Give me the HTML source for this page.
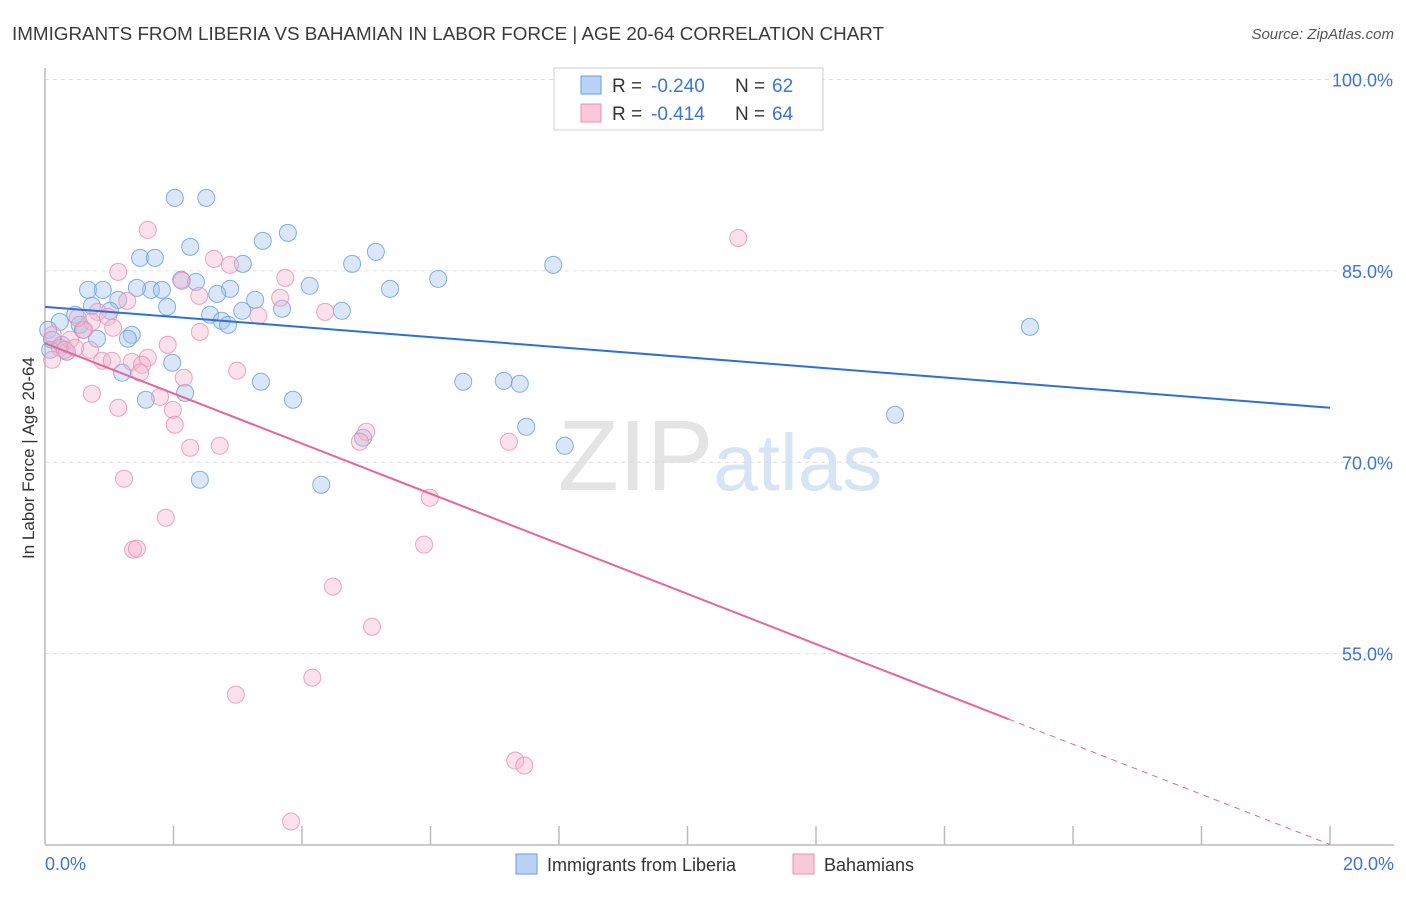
<!DOCTYPE html>
<html><head><meta charset="utf-8"><style>
body{margin:0;background:#fff;font-family:"Liberation Sans",sans-serif;}
svg text{font-family:"Liberation Sans",sans-serif;}
</style></head><body>
<svg id="chart" width="1406" height="892" xmlns="http://www.w3.org/2000/svg">
<text x="12" y="40" font-size="18" fill="#3a3a3a" textLength="872" lengthAdjust="spacingAndGlyphs">IMMIGRANTS FROM LIBERIA VS BAHAMIAN IN LABOR FORCE | AGE 20-64 CORRELATION CHART</text>
<text x="1394" y="39" font-size="15" fill="#555" font-style="italic" text-anchor="end">Source: ZipAtlas.com</text>
<text x="720" y="490" font-size="100" fill="#e4e4e4" text-anchor="middle" font-family="Liberation Serif">ZIP<tspan fill="#d6e4f4" font-family="Liberation Sans" font-size="80">atlas</tspan></text>
<g id="grid"></g>
<g id="axes"></g>
<g id="marks"></g>
<text transform="translate(34,458) rotate(-90)" font-size="17" fill="#333" text-anchor="middle">In Labor Force | Age 20-64</text>
<g>
<rect x="554" y="68" width="269" height="62" fill="#fff" stroke="#ccc"/>
<rect x="581" y="76" width="20" height="18" fill="#b8d3f5" stroke="#6a9be0"/>
<text x="612" y="92" font-size="19" fill="#333">R =</text>
<text x="651" y="92" font-size="19" fill="#3f74d2">-0.240</text>
<text x="735" y="92" font-size="19" fill="#333">N =</text>
<text x="772" y="92" font-size="19" fill="#3f74d2">62</text>
<rect x="581" y="104" width="20" height="18" fill="#f9c9d9" stroke="#e890b0"/>
<text x="612" y="120" font-size="19" fill="#333">R =</text>
<text x="651" y="120" font-size="19" fill="#3f74d2">-0.414</text>
<text x="735" y="120" font-size="19" fill="#333">N =</text>
<text x="772" y="120" font-size="19" fill="#3f74d2">64</text>
</g>
<g><rect x="516" y="854" width="21" height="20" fill="#b8d3f5" stroke="#6a9be0"/><text x="547" y="871" font-size="18" fill="#333">Immigrants from Liberia</text></g>
<g><rect x="793" y="854" width="21" height="20" fill="#f9c9d9" stroke="#e890b0"/><text x="824" y="871" font-size="18" fill="#333">Bahamians</text></g>
</svg>
<script>
const yTicks=[100,85,70,55];
const xTickLabels=["0.0%","20.0%"];
const blueX=[2.02,2.51,2.26,3.39,3.78,1.48,1.71,3.08,4.78,5.15,7.91,6.12,2.12,2.35,1.65,1.82,1.43,0.67,0.90,2.88,2.68,4.12,5.37,1.14,3.27,0.73,1.90,3.07,3.69,4.62,1.01,0.47,0.23,0.54,0.05,0.59,2.57,2.75,2.85,1.35,1.29,0.81,0.26,0.11,1.98,1.20,3.36,6.51,7.14,7.39,3.86,1.57,2.18,13.23,7.49,4.95,8.09,2.41,4.30,15.33,0.34,0.08];
const blueY=[90.72,90.72,86.88,87.35,87.98,86.02,86.02,85.55,85.55,86.49,85.47,84.37,84.30,84.14,83.51,83.51,83.67,83.51,83.51,83.59,83.20,83.83,83.59,82.73,82.73,82.26,82.18,81.87,82.03,81.87,81.87,81.56,81.01,80.77,80.38,80.38,81.56,81.09,80.77,79.99,79.68,79.68,79.21,79.60,77.80,77.02,76.31,76.31,76.38,76.15,74.90,74.90,75.44,73.72,72.78,71.92,71.29,68.63,68.24,80.61,78.66,78.81];
const pinkX=[1.60,10.79,1.14,2.63,2.88,3.74,2.13,2.40,3.66,1.28,3.32,4.36,0.82,0.98,0.73,0.61,1.06,2.41,0.12,0.39,0.23,0.70,1.91,1.60,1.35,0.89,1.04,1.51,1.48,0.11,2.16,2.99,0.73,1.79,1.14,1.99,2.02,5.00,4.90,2.26,2.72,7.22,1.23,5.99,1.88,1.37,1.43,5.90,4.48,5.09,4.16,2.97,7.32,7.46,3.83,0.51,0.31,0.47];
const pinkY=[88.21,87.58,84.92,85.94,85.47,84.45,84.22,83.04,82.89,82.65,81.48,81.79,81.79,81.40,81.01,80.38,80.54,80.22,79.99,79.60,78.97,78.81,79.21,78.19,77.88,77.96,77.96,77.64,77.02,78.03,76.62,77.17,75.37,75.13,74.27,74.11,72.94,72.39,71.61,71.14,71.29,71.61,68.71,67.22,65.65,63.15,63.23,63.54,60.25,57.11,53.12,51.79,46.62,46.23,41.84,81.32,78.81,78.97];
const blueTrend=[82.18,74.27];
const pinkTrend=[79.32,40.04];
const pinkSolidEnd=15.0;
const NS="http://www.w3.org/2000/svg";
const X0=45,X1=1330,Y0=845,Ytop=79.5;
function sx(v){return X0+(v/20)*(X1-X0);}
function sy(v){return Y0-(v-40)/60*(Y0-Ytop);}
function mk(tag,attrs,parent){const e=document.createElementNS(NS,tag);for(const k in attrs)e.setAttribute(k,attrs[k]);document.getElementById(parent).appendChild(e);return e;}
yTicks.forEach(t=>{
 const l=mk('line',{x1:X0,x2:1394,y1:sy(t),y2:sy(t),stroke:'#ddd','stroke-dasharray':'4,4'},'grid');
 
 
 const tx=mk('text',{x:1393,y:sy(t)+7,'font-size':18,fill:'#3f74d2','text-anchor':'end'},'grid');
 tx.textContent=t.toFixed(1)+'%';
 
 
});
const ax=mk('line',{x1:X0,x2:X0,y1:68,y2:Y0,stroke:'#bbb','stroke-width':1.5},'axes');


const bx=mk('line',{x1:X0,x2:1394,y1:Y0,y2:Y0,stroke:'#bbb','stroke-width':1.5},'axes');


for(let i=1;i<=10;i++){
 const t=mk('line',{x1:sx(i*2),x2:sx(i*2),y1:826,y2:Y0,stroke:'#bbb','stroke-width':1.5},'axes');
 
 
}
const xl0=mk('text',{x:45,y:870,'font-size':18,fill:'#3f74d2'},'axes');xl0.textContent=xTickLabels[0];


const xl1=mk('text',{x:1394,y:870,'font-size':18,fill:'#3f74d2','text-anchor':'end'},'axes');xl1.textContent=xTickLabels[1];


function pts(xs,ys,fill,stroke,name){xs.forEach((x,i)=>{
 const c=mk('circle',{cx:sx(x),cy:sy(ys[i]),r:8.5,fill:fill,stroke:stroke,'stroke-width':1,'stroke-opacity':0.8},'marks');
 
 
});}
pts(blueX,blueY,'rgba(160,196,240,0.4)','#6a9be0','point-liberia');
pts(pinkX,pinkY,'rgba(245,180,205,0.4)','#e890b0','point-bahamian');
const bl=mk('line',{x1:sx(0),y1:sy(blueTrend[0]),x2:sx(20),y2:sy(blueTrend[1]),stroke:'#2f6fd6','stroke-width':2},'marks');


const pyAt=v=>pinkTrend[0]+(pinkTrend[1]-pinkTrend[0])*v/20;
const pl=mk('line',{x1:sx(0),y1:sy(pinkTrend[0]),x2:sx(pinkSolidEnd),y2:sy(pyAt(pinkSolidEnd)),stroke:'#e5679a','stroke-width':2},'marks');


const pd=mk('line',{x1:sx(pinkSolidEnd),y1:sy(pyAt(pinkSolidEnd)),x2:sx(20),y2:sy(pinkTrend[1]),stroke:'#e5679a','stroke-width':1,'stroke-dasharray':'6,5'},'marks');


</script>
</body></html>
